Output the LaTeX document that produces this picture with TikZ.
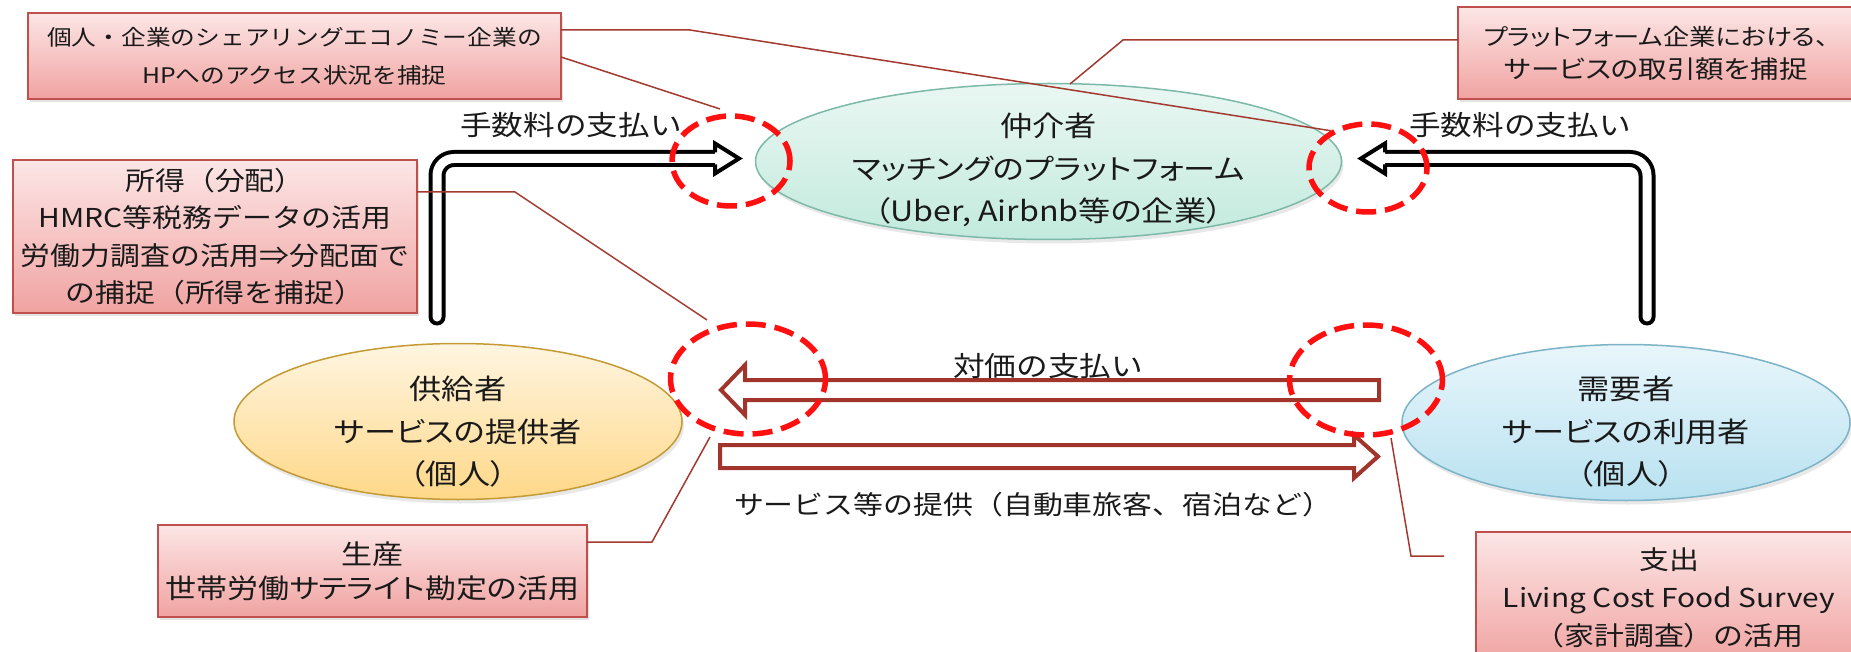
\documentclass[tikz,border=0pt]{standalone}
\usepackage{fontspec}
\setmainfont{Noto Sans CJK JP}[FakeStretch=1.15]
\newfontfamily\pf{Noto Sans CJK JP}[FakeStretch=1.15,RawFeature=+palt]
\usetikzlibrary{shapes.geometric,shadows}
\definecolor{boxedge}{HTML}{C0504D}
\definecolor{boxtop}{HTML}{FCE6E6}
\definecolor{boxbot}{HTML}{F0A3A1}
\definecolor{leadc}{HTML}{A33A30}
\definecolor{redarr}{HTML}{A2352B}
\definecolor{midtop}{HTML}{EAF7F3}
\definecolor{midbot}{HTML}{C2EADD}
\definecolor{midedge}{HTML}{7DB9A8}
\definecolor{suptop}{HTML}{FFF5E0}
\definecolor{supbot}{HTML}{FFD888}
\definecolor{supedge}{HTML}{C49A35}
\definecolor{demtop}{HTML}{E8F6FB}
\definecolor{dembot}{HTML}{B8E1F0}
\definecolor{demedge}{HTML}{7DB3C6}
\definecolor{ringred}{HTML}{FF1010}
\definecolor{txt}{HTML}{1A1A1A}
\begin{document}
\begin{tikzpicture}[x=1pt,y=-1pt,
  note/.style={rectangle, draw=boxedge, line width=2pt, top color=boxtop, bottom color=boxbot,
    inner sep=0pt, align=center, text=txt,
    drop shadow={opacity=0.22, shadow xshift=2pt, shadow yshift=-3pt}},
  oval/.style={ellipse, line width=1.5pt, inner sep=0pt,
    drop shadow={opacity=0.18, shadow xshift=2pt, shadow yshift=-4pt}},
  ovaltext/.style={align=center, text=txt, inner sep=0pt, font={\pf\fontsize{28}{42.5}\selectfont}},
  ring/.style={ellipse, draw=ringred, line width=5.5pt, dash pattern=on 20pt off 9pt, inner sep=0pt},
  leader/.style={draw=leadc, line width=1.5pt},
  lbl/.style={text=txt, inner sep=0pt},
  redbox/.style={draw=redarr, line width=4pt, fill=white, line join=miter}
]
\useasboundingbox (0,0) rectangle (1851,652);
\clip (0,0) rectangle (1851,652);
\fill[white] (0,0) rectangle (1851,652);

% note boxes
\node[note, minimum width=533pt, minimum height=86pt, font={\fontsize{21.5}{38}\selectfont}] (b1) at (294.5,56)
  {個人・企業のシェアリングエコノミー企業の\\HPへのアクセス状況を捕捉};
\node[note, minimum width=404pt, minimum height=153pt, font={\fontsize{26}{37.5}\selectfont}] (b2) at (215,236.5)
  {所得（分配）\\HMRC等税務データの活用\\労働力調査の活用⇒分配面で\\の捕捉（所得を捕捉）};
\node[note, minimum width=396pt, minimum height=92pt, font={\pf\fontsize{24.8}{33}\selectfont}] (b3) at (1656,53)
  {{\fontsize{22.8}{33}\selectfont プラットフォーム企業における、}\\サービスの取引額を捕捉};
\node[note, minimum width=429pt, minimum height=92pt, font={\pf\fontsize{27}{34}\selectfont}] (b4) at (372.5,571)
  {生産\\世帯労働サテライト勘定の活用};
\node[note, minimum width=386pt, minimum height=132pt, font={\fontsize{26}{38}\selectfont}] (b5) at (1669,598)
  {支出\\Living Cost Food Survey\\（家計調査）の活用};

% main ellipses
\node[oval, draw=midedge, top color=midtop, bottom color=midbot, minimum width=586pt, minimum height=156pt] (mid) at (1048.5,161.5) {};
\node[oval, draw=supedge, top color=suptop, bottom color=supbot, minimum width=448pt, minimum height=156pt] (sup) at (458,421.5) {};
\node[oval, draw=demedge, top color=demtop, bottom color=dembot, minimum width=448pt, minimum height=156pt] (dem) at (1626,422.5) {};
\node[ovaltext] (midt) at (1048.5,170) {仲介者\\マッチングのプラットフォーム\\（Uber, Airbnb等の企業）};
\node[ovaltext] (supt) at (458,432) {供給者\\サービスの提供者\\（個人）};
\node[ovaltext] (demt) at (1626,432) {需要者\\サービスの利用者\\（個人）};

% black double arrows (fee payments)
\coordinate (la0) at (437,317);
\coordinate (la1) at (437,158.5);
\coordinate (ra0) at (1647,317);
\coordinate (ra1) at (1647,158.5);
\draw[black, line width=17pt, line cap=round, rounded corners=17pt] (la0) -- (la1) -- (715,158.5);
\draw[white, line width=9pt, line cap=round, rounded corners=17pt] (la0) -- (la1) -- (718,158.5);
\fill[white] (715,143.5) -- (739,158.5) -- (715,173.5) -- cycle;
\draw[black, line width=4pt, line join=miter] (715,152.5) -- (715,143.5) -- (739,158.5) -- (715,173.5) -- (715,164.5);
\draw[black, line width=17pt, line cap=round, rounded corners=17pt] (ra0) -- (ra1) -- (1385,158.5);
\draw[white, line width=9pt, line cap=round, rounded corners=17pt] (ra0) -- (ra1) -- (1382,158.5);
\fill[white] (1385,143.5) -- (1361,158.5) -- (1385,173.5) -- cycle;
\draw[black, line width=4pt, line join=miter] (1385,152.5) -- (1385,143.5) -- (1361,158.5) -- (1385,173.5) -- (1385,164.5);

% red block arrows
\draw[redbox] (1379,380) -- (745,380) -- (745,365) -- (721,390) -- (745,415) -- (745,400) -- (1379,400) -- cycle;
\draw[redbox] (720,445) -- (1354,445) -- (1354,435) -- (1378,456.5) -- (1354,478) -- (1354,468) -- (720,468) -- cycle;

% labels
\node[lbl, font={\fontsize{27.5}{30}\selectfont}] (fee1) at (571,125) {手数料の支払い};
\node[lbl, font={\fontsize{27.5}{30}\selectfont}] (fee2) at (1520,125) {手数料の支払い};
\node[lbl, font={\fontsize{27.5}{30}\selectfont}] (pay) at (1048,366) {対価の支払い};
\node[lbl, font={\fontsize{26}{30}\selectfont}] (serv) at (1033,505) {サービス等の提供（自動車旅客、宿泊など）};

% dashed rings
\node[ring, minimum width=118pt, minimum height=90pt] (c1) at (731,161) {};
\node[ring, minimum width=118pt, minimum height=88pt] (c2) at (1368,168) {};
\node[ring, minimum width=155pt, minimum height=110pt] (c3) at (748,379) {};
\node[ring, minimum width=153pt, minimum height=110pt] (c4) at (1366,380) {};

% leader lines
\coordinate (p1) at (561,30);
\coordinate (p2) at (561,57);
\coordinate (q2) at (720,109);
\coordinate (p3) at (1070,84);
\coordinate (q3) at (1458,40);
\coordinate (p4) at (417,192);
\coordinate (q4) at (707,320);
\coordinate (p5) at (587,542);
\coordinate (q5) at (710,437);
\coordinate (p6) at (1444,556);
\coordinate (q6) at (1391,438);
\draw[leader] (p1) -- (690,30) -- (c2.135);
\draw[leader] (p2) -- (q2);
\draw[leader] (p3) -- (1123,40) -- (q3);
\draw[leader] (p4) -- (515,192) -- (q4);
\draw[leader] (p5) -- (652,542) -- (q5);
\draw[leader] (p6) -- (1411,556) -- (q6);
\end{tikzpicture}
\end{document}
